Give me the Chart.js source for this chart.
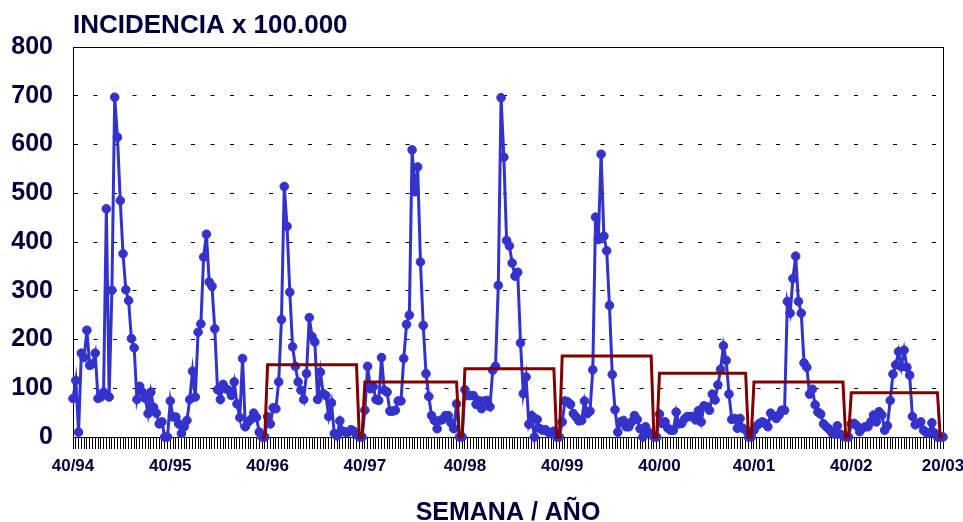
<!DOCTYPE html>
<html lang="es">
<head>
<meta charset="utf-8">
<title>Incidencia semanal de gripe</title>
<script src="https://cdn.jsdelivr.net/npm/chart.js@4.4.1/dist/chart.umd.min.js"></script>
<style>
  html, body { margin: 0; padding: 0; background: #ffffff; }
  #grafico { display: block; }
</style>
</head>
<body>
<canvas id="grafico" width="963" height="522"></canvas>
<script>
// Incidencia semanal x 100.000 hab., una lista por temporada (semana 40 a semana 20),
// cada una cerrada con dos semanas de separación a cero.
const t9495 = [79, 116, 10, 172, 163, 219, 147, 150, 172, 79, 82, 92, 468, 82, 301, 697, 615, 485, 376, 302, 280, 202, 183, 77, 104, 92, 79, 48, 92, 61, 49, 27, 31, 0, 0];
const t9596 = [74, 41, 41, 27, 7, 21, 34, 77, 135, 82, 215, 232, 369, 416, 318, 309, 222, 97, 77, 108, 99, 96, 85, 113, 68, 40, 161, 21, 31, 36, 49, 40, 10, 0, 0];
const t9697 = [42, 27, 60, 58, 113, 241, 514, 432, 297, 185, 145, 113, 96, 77, 130, 245, 206, 195, 77, 133, 89, 85, 42, 70, 7, 2, 33, 12, 10, 10, 15, 12, 5, 0, 0];
const t9798 = [55, 145, 99, 103, 77, 75, 163, 96, 92, 53, 53, 55, 74, 74, 161, 231, 250, 589, 503, 554, 359, 229, 130, 83, 44, 34, 17, 34, 36, 44, 44, 29, 17, 68, 0, 0];
const t9899 = [97, 85, 85, 85, 67, 75, 58, 74, 75, 62, 137, 145, 311, 696, 574, 403, 392, 357, 330, 338, 193, 89, 123, 26, 44, 0, 36, 17, 14, 15, 10, 7, 12, 0, 0];
const t9900 = [31, 74, 72, 67, 48, 41, 33, 34, 74, 48, 53, 138, 451, 405, 580, 412, 382, 270, 128, 56, 10, 31, 34, 21, 21, 31, 44, 36, 17, 0, 21, 10, 7, 0, 0];
const t0001 = [47, 28, 31, 18, 14, 14, 51, 27, 28, 37, 42, 42, 42, 35, 54, 31, 64, 62, 55, 88, 76, 107, 139, 187, 157, 88, 36, 38, 18, 38, 18, 14, 0, 0];
const t0102 = [14, 23, 28, 31, 28, 21, 49, 43, 38, 45, 55, 55, 278, 254, 325, 371, 278, 254, 152, 143, 88, 98, 66, 51, 47, 27, 21, 16, 9, 6, 23, 6, 2, 0, 0];
const t0203 = [27, 28, 23, 11, 18, 21, 21, 31, 45, 31, 52, 45, 14, 23, 75, 129, 148, 175, 144, 178, 143, 127, 42, 25, 28, 31, 14, 9, 8, 29, 8, 0, 0, 0];

// Umbral epidémico de cada temporada (las dos primeras no lo tienen)
const umbrales = [null, null, 148, 113, 140, 166, 131, 113, 91];

// Rótulos del eje X: comienzo de cada temporada y última semana
const rotulosTemporada = ['40/94', '40/95', '40/96', '40/97', '40/98', '40/99', '40/00', '40/01', '40/02'];
const rotuloFinal = '20/03';

// Eje Y
const yMin = 0, yMax = 800, yPaso = 100;

const TITULO_Y = 'INCIDENCIA x 100.000';
const TITULO_X = 'SEMANA / AÑO';

const temporadas = [t9495, t9596, t9697, t9798, t9899, t9900, t0001, t0102, t0203];

// Serie semanal continua, rótulos y línea de umbral
const incidencia = [];
const umbral = [];
const etiquetas = [];
temporadas.forEach((serie, k) => {
  const u = umbrales[k];
  const siguiente = k + 1 < umbrales.length ? umbrales[k + 1] : null;
  serie.forEach((v, j) => {
    incidencia.push(v);
    etiquetas.push(j === 0 ? rotulosTemporada[k] : '');
    const separador = j >= serie.length - 2;
    if (separador) umbral.push(u != null || siguiente != null ? 0 : null);
    else umbral.push(u);
  });
});
etiquetas[etiquetas.length - 1] = rotuloFinal;

const TEXTO = '#00003c';
const AZUL = '#3333cc';
const GRANATE = '#800000';
const FUENTE = '"Liberation Sans", Arial, Helvetica, sans-serif';

// Marco del área de trazado y título del eje vertical
const marcoYTitulo = {
  id: 'marcoYTitulo',
  beforeDatasetsDraw(chart) {
    const { ctx, chartArea: a } = chart;
    ctx.save();
    ctx.strokeStyle = '#000';
    ctx.lineWidth = 1;
    ctx.strokeRect(Math.round(a.left) + 0.5, Math.round(a.top) + 0.5,
                   Math.round(a.right - a.left), Math.round(a.bottom - a.top));
    ctx.restore();
  },
  afterDraw(chart) {
    const { ctx, chartArea: a } = chart;
    ctx.save();
    ctx.font = 'bold 26px ' + FUENTE;
    ctx.fillStyle = TEXTO;
    ctx.textAlign = 'left';
    ctx.textBaseline = 'middle';
    ctx.fillText(TITULO_Y, a.left, 26);
    ctx.restore();
  }
};

new Chart(document.getElementById('grafico'), {
  type: 'line',
  data: {
    labels: etiquetas,
    datasets: [
      {
        label: 'Umbral',
        data: umbral,
        borderColor: GRANATE,
        borderWidth: 3,
        pointRadius: 0,
        pointHoverRadius: 0,
        tension: 0,
        spanGaps: false,
        fill: false,
        clip: false
      },
      {
        label: 'Incidencia',
        data: incidencia,
        borderColor: AZUL,
        backgroundColor: AZUL,
        borderWidth: 3,
        pointRadius: 4.3,
        pointBorderWidth: 1,
        pointBackgroundColor: AZUL,
        pointBorderColor: AZUL,
        tension: 0,
        fill: false,
        clip: false
      }
    ]
  },
  options: {
    responsive: false,
    devicePixelRatio: 1,
    animation: false,
    events: [],
    layout: { padding: { top: 47, left: 0, right: 0, bottom: 0 } },
    plugins: {
      legend: { display: false },
      title: { display: false },
      tooltip: { enabled: false }
    },
    scales: {
      x: {
        type: 'category',
        offset: false,
        afterFit(scale) {
          scale.height = 85;
          scale.paddingRight = 20;
        },
        grid: {
          display: true,
          drawOnChartArea: false,
          drawTicks: true,
          tickLength: 12,
          tickColor: '#000',
          tickWidth: 1,
          color: '#000'
        },
        border: { display: true, color: '#000', width: 1 },
        ticks: {
          autoSkip: false,
          maxRotation: 0,
          minRotation: 0,
          padding: 7,
          color: TEXTO,
          font: { family: FUENTE, size: 17, weight: 'bold', lineHeight: 1.2 },
          callback(value, index) { return etiquetas[index]; }
        },
        title: {
          display: true,
          text: TITULO_X,
          color: TEXTO,
          font: { family: FUENTE, size: 25, weight: 'bold', lineHeight: 0.72 },
          padding: { top: 0, bottom: 0 }
        }
      },
      y: {
        min: yMin,
        max: yMax,
        afterFit(scale) { scale.width = 73; },
        grid: {
          drawTicks: false,
          lineWidth: 1,
          color(ctx) {
            const v = ctx.tick ? ctx.tick.value : null;
            return (v > yMin && v < yMax) ? '#000' : 'rgba(0,0,0,0)';
          }
        },
        border: { display: true, color: '#000', width: 1, dash: [4, 15.5] },
        ticks: {
          stepSize: yPaso,
          padding: 20,
          color: TEXTO,
          font: { family: FUENTE, size: 25, weight: 'bold' }
        }
      }
    }
  },
  plugins: [marcoYTitulo]
});
</script>
</body>
</html>
